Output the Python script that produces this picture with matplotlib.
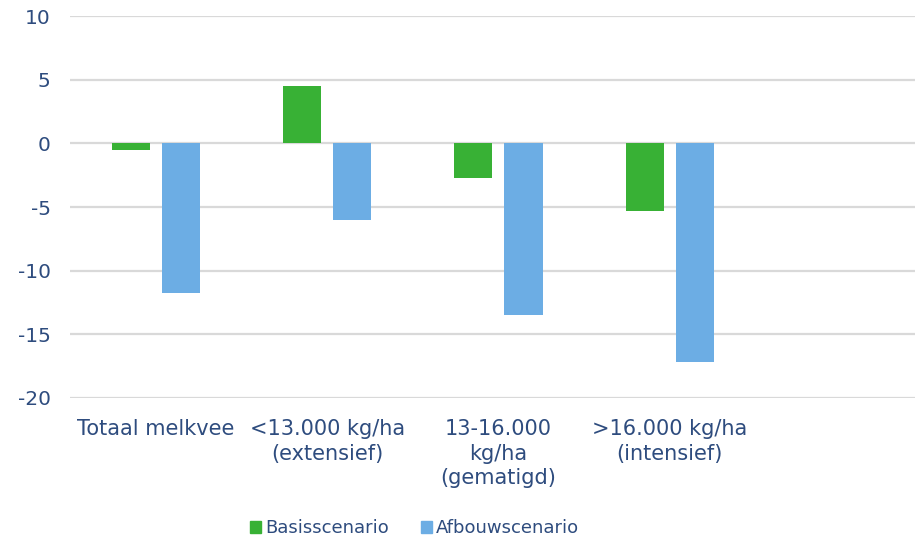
import numpy as np
import matplotlib.pyplot as plt
from matplotlib.patches import Patch

# Data
categories = ['Totaal melkvee', '<13.000 kg/ha\n(extensief)', '13-16.000\nkg/ha\n(gematigd)',
              '>16.000 kg/ha\n(intensief)', '']
basis = [-0.5, 4.5, -2.75, -5.3, np.nan]
afbouw = [-11.75, -6.05, -13.5, -17.15, np.nan]
y_ticks = [10, 5, 0, -5, -10, -15, -20]

green = '#38B135'
blue = '#6CADE4'
text_col = '#2E4C7E'
grid_col = '#D9D9D9'

fig = plt.figure(figsize=(9.15, 5.39), dpi=100)
ax = fig.add_axes([0.0765, 0.2616, 0.9235, 0.7084])

x = np.arange(len(categories))
w = 0.222
ax.bar(x - 0.146, basis, width=w, color=green, zorder=3)
ax.bar(x + 0.146, afbouw, width=w, color=blue, zorder=3)

ax.set_ylim(-20, 10)
ax.set_xlim(-0.5, 4.43)
ax.set_yticks(y_ticks)
ax.set_yticklabels([str(t) for t in y_ticks])
ax.set_xticks(x)
ax.set_xticklabels(categories, fontsize=15, color=text_col, linespacing=1.3, va='top')
ax.tick_params(axis='y', labelsize=14.5, labelcolor=text_col, length=0, pad=14)
ax.tick_params(axis='x', length=0, pad=15)
for lab in ax.get_yticklabels():
    lab.set_horizontalalignment('right')

ax.grid(axis='y', color=grid_col, linewidth=1.6, zorder=0)
for s in ax.spines.values():
    s.set_visible(False)

handles = [Patch(color=green, label='Basisscenario'), Patch(color=blue, label='Afbouwscenario')]
leg = fig.legend(handles=handles, loc='center', bbox_to_anchor=(0.453, 0.02), ncol=2,
                 frameon=False, fontsize=13, handlelength=0.6, handleheight=0.6,
                 handletextpad=0.22, columnspacing=1.8, borderpad=0.2)
for t in leg.get_texts():
    t.set_color(text_col)

fig.savefig('out.png', dpi=100)
